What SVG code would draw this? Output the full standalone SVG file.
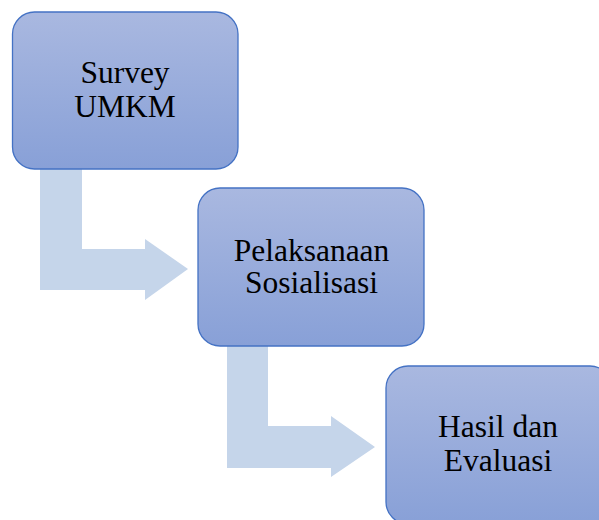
<svg xmlns="http://www.w3.org/2000/svg" width="599" height="520" viewBox="0 0 599 520">
<defs>
<linearGradient id="g" x1="0" y1="0" x2="0" y2="1">
<stop offset="0" stop-color="#A9B8E0"/>
<stop offset="1" stop-color="#88A0D7"/>
</linearGradient>
<style>
.box{fill:url(#g);stroke:#4472C4;stroke-width:1.3}
.arr{fill:#C5D5EA}
.t{font-family:"Liberation Serif","Times New Roman",serif;font-size:31.5px;fill:#000;text-anchor:middle}
</style>
</defs>
<rect width="599" height="520" fill="#fff"/>
<g id="connectors">
<path class="arr" d="M40,169 H82 V249 H145 V239 L188,269 L145,300 V290 H40 Z"/>
<path class="arr" d="M227,346 H268 V426 H331 V416 L375,447 L331,477 V468 H227 Z"/>
</g>
<g id="node1">
<rect class="box" x="12.5" y="12" width="225.5" height="157" rx="22"/>
<text class="t" x="125" y="83">Survey</text>
<text class="t" x="125" y="117">UMKM</text>
</g>
<g id="node2">
<rect class="box" x="198" y="188" width="226" height="158" rx="22"/>
<text class="t" x="311.5" y="261">Pelaksanaan</text>
<text class="t" x="311.5" y="293">Sosialisasi</text>
</g>
<g id="node3">
<rect class="box" x="386" y="366" width="226" height="158" rx="22"/>
<text class="t" x="498" y="437">Hasil dan</text>
<text class="t" x="498" y="471">Evaluasi</text>
</g>
</svg>
